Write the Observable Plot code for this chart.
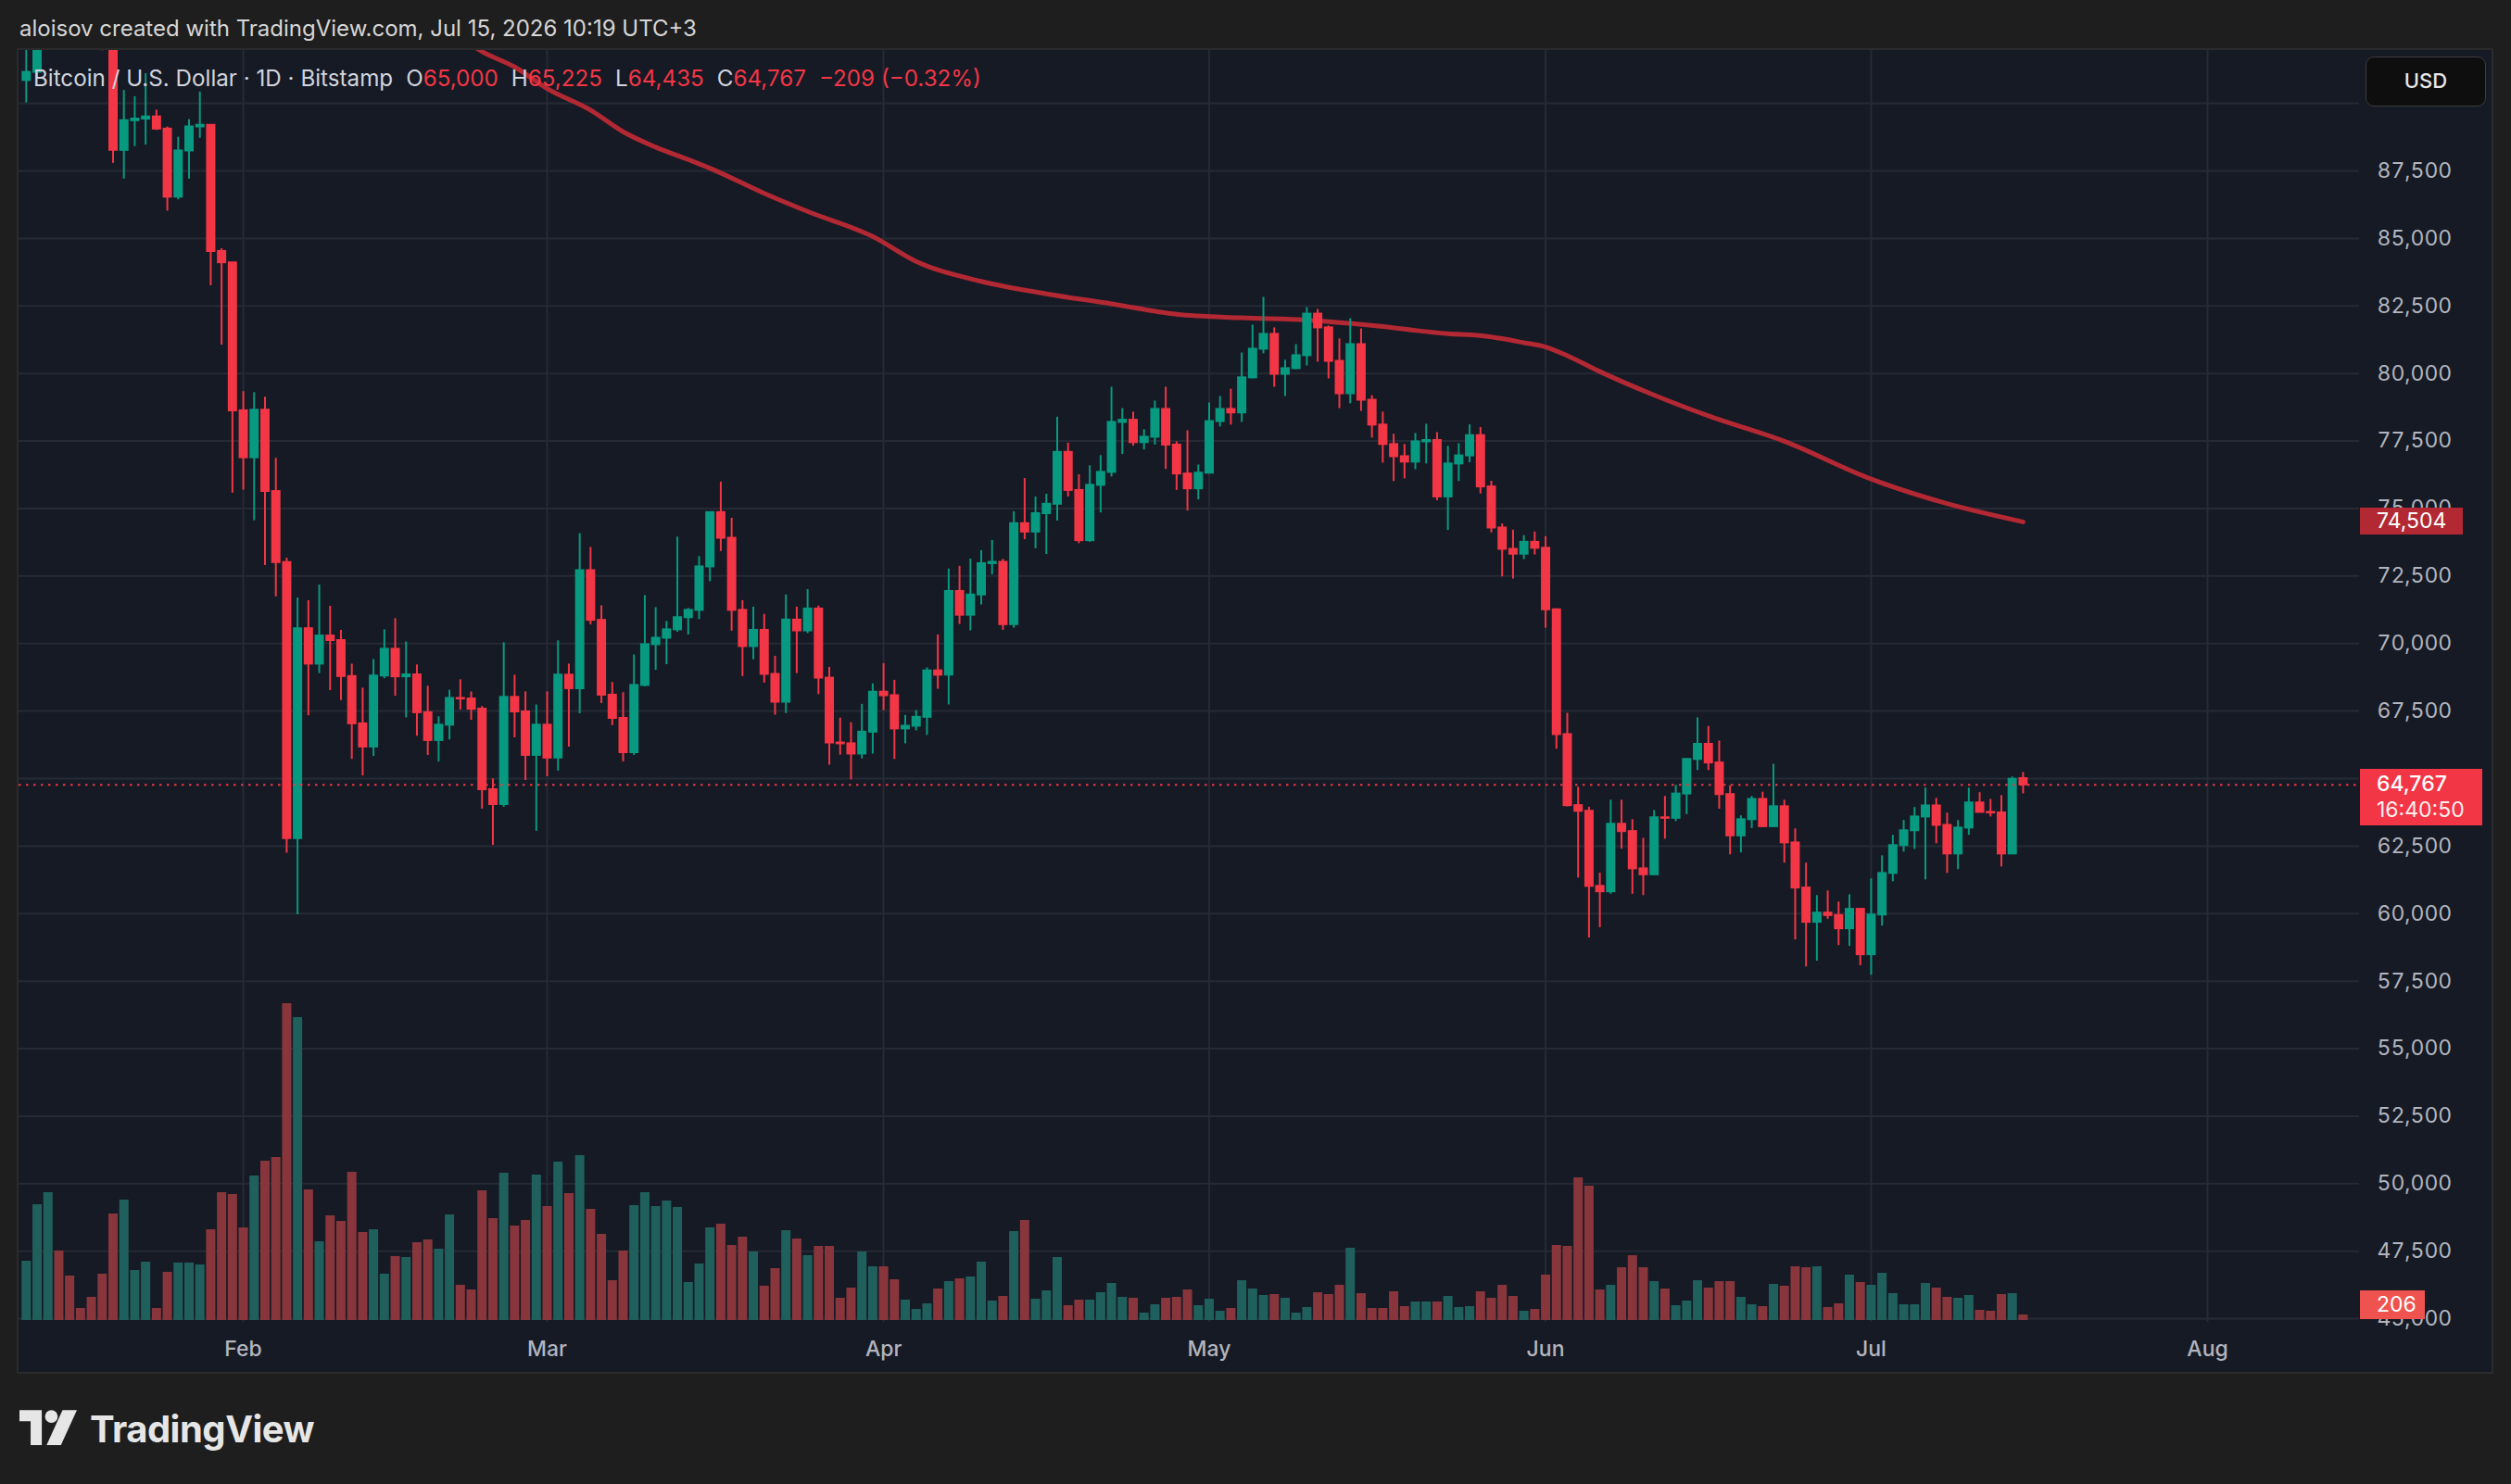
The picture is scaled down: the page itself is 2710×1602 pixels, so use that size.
<!DOCTYPE html>
<html><head><meta charset="utf-8">
<script src="https://cdn.jsdelivr.net/npm/d3@7"></script>
<script src="https://cdn.jsdelivr.net/npm/@observablehq/plot@0.6"></script>
<style>
html,body{margin:0;padding:0;background:#1e1e1e;}
body{width:2710px;height:1602px;position:relative;overflow:hidden;font-family:Inter,"Noto Sans",sans-serif;}
#header{position:absolute;left:21px;top:16px;font-size:24px;color:#d6d6d6;line-height:30px;white-space:nowrap;}
#pane{position:absolute;left:18px;top:52px;width:2673px;height:1431px;box-sizing:border-box;border:2px solid #2b2b2b;background:#161a25;overflow:hidden;}
.layer{position:absolute;left:0;top:0;}
#legend{position:absolute;left:16px;top:16px;font-size:24.2px;line-height:30px;color:#d1d4dc;white-space:nowrap;}
#legend .v{color:#f23645;}
#legend .g{margin-left:14px;}
.tag{position:absolute;left:2527px;color:#fff;font-size:23px;box-sizing:border-box;padding-left:18px;white-space:nowrap;}
#usd{position:absolute;left:2533px;top:7px;width:130px;height:54px;box-sizing:border-box;background:#0e0e0e;border:1.5px solid #3c3c3c;border-radius:9px;color:#e8e8e8;font-size:22px;font-weight:500;text-align:center;line-height:51px;}
#footer{position:absolute;left:21px;top:1519px;height:46px;display:flex;align-items:center;color:#e6e6e6;}
#footer span{font-size:40px;font-weight:700;margin-left:14px;letter-spacing:-0.5px;}
</style></head>
<body>
<div id="header">aloisov created with TradingView.com, Jul 15, 2026 10:19 UTC+3</div>
<div id="pane"></div>
<div id="footer"><svg width="62" height="40" viewBox="0 0 36 23"><g fill="#e6e6e6"><path d="M0 0h14v22H7V7H0z"/><circle cx="20" cy="4" r="4"/><path d="M27 0h9l-10 22h-9z"/></g></svg><span>TradingView</span></div>
<script>
// ---- data (daily candles, Jan 12 – Jul 15, 2026) ----
const firstDay = "2026-01-12";
const opens = [
90850,91150,95500,97000,95600,95500,95100,93600,92600,88260,89360,89420,89500,89050,86530,88240,89130,89190,84520,84100,
78620,76880,78640,75630,73000,62780,70550,69240,70280,70110,68780,67030,66170,68800,69790,68770,68840,67440,66410,66980,67970,67950,67570,64590,64040,68010,67470,65860,
66980,65760,68830,68330,72700,70860,68090,67230,65960,68450,69960,70200,70510,70960,71230,72840,74850,73900,71230,69890,70490,68860,67830,70870,70470,71280,68720,66320,66290,65910,66720,
68200,68070,66840,66940,67270,68990,68830,71930,71050,71800,72960,73010,70700,74440,74130,74810,75160,77080,75670,73810,75860,76340,78190,78270,77440,77640,78670,77350,76280,75730,
76310,78220,78670,78540,79840,80900,81450,79970,80180,80660,82200,81690,80450,79250,81070,79010,78090,77370,76920,76720,77470,77520,75430,76650,76950,77700,75800,74280,73490,73310,73750,
73530,71250,66630,64000,63790,61010,60810,63310,63040,61660,61440,63550,63530,64430,65710,66270,65580,64410,62880,63480,64230,63220,63960,62620,60950,59680,60020,59930,59440,60160,
58480,59950,61490,62520,63070,63580,63990,63270,62210,63170,64100,63750,63730,62210,65000];
const highs = [
92500,96500,97900,97200,95800,95700,95400,93700,92800,90480,90250,91100,89750,89130,88750,89400,90420,89190,84620,84120,
79330,79290,79120,76860,73160,71690,71590,72170,71380,70490,69240,68350,69410,70510,70920,70060,69210,68420,67290,68270,68660,68210,67670,64990,70030,68830,68210,67730,
68210,70100,69240,74070,73560,71400,68560,68180,69580,71780,71330,70820,73940,71300,73220,74880,75980,74640,71590,71350,71080,69530,71800,71350,72000,71390,69120,67240,67070,67750,68510,
69260,68640,67340,67520,69100,70320,72760,72860,73130,73440,73820,73120,74880,76110,75430,75530,78380,77420,76250,76580,76960,79490,78700,78570,77920,78980,79490,77470,77880,76610,
78910,79150,79420,80760,81790,82820,81690,80490,81070,82440,82370,81760,81280,82030,81650,79180,78570,77750,77370,77780,78120,77810,77300,77400,78100,78000,76010,74430,74200,74000,74130,
73960,71290,67420,64680,63940,61500,64200,64200,63480,62790,63820,64340,64750,65740,67250,66930,66390,64740,63620,64340,64500,65530,64200,63140,61870,60670,60840,60430,60700,60190,
61290,62140,62900,63450,63930,64650,64270,63720,63450,64650,64480,64230,64370,65060,65225];
const lows = [
90020,90900,94900,95000,94300,95000,92900,91950,87780,87200,88400,88460,89000,86010,86430,87200,88710,83250,81050,75570,
75680,74550,72890,71730,62240,59960,67330,68890,68260,67890,65710,65100,65820,68700,68050,67250,66570,65860,65620,66430,67540,67160,63870,62530,63940,66510,64930,63050,
65070,65280,66170,67400,70690,67780,66960,65620,65860,68400,69010,69220,70420,70320,70890,72290,73410,70460,68780,69400,68540,67350,67410,68890,70370,68110,65500,65870,64950,65730,65910,
67520,65710,66290,66770,66600,68310,67730,70710,70470,71430,72550,70490,70570,73850,73510,73300,74540,75430,73700,73750,74840,76170,77000,77310,77170,77350,76450,75670,74910,75320,
76280,78020,78090,78190,79800,80730,79490,79150,80140,80280,80420,79800,78700,78880,78600,77610,76680,76000,76100,76440,76650,75290,74190,76000,76700,75540,74100,72470,72390,73110,73280,
70570,66090,63950,61320,59100,59480,60720,62390,60720,60670,61440,62760,63410,63670,65300,65300,63870,62180,62250,63150,63200,63200,61870,59030,58030,58240,59790,58820,58790,58070,
57720,59540,61180,62280,62380,61250,62590,61490,61630,62900,63750,63580,61730,62210,64435];
const closes = [
91150,95500,97000,95600,95500,95100,93600,92600,88260,89360,89420,89500,89050,86530,88240,89130,89190,84520,84100,78620,
76880,78640,75630,73000,62780,70550,69240,70280,70110,68780,67030,66170,68800,69790,68770,68840,67440,66410,66980,67970,67950,67570,64590,64040,68010,67470,65860,66980,
65760,68830,68330,72700,70860,68090,67230,65960,68450,69960,70200,70510,70960,71230,72840,74850,73900,71230,69890,70490,68860,67830,70870,70470,71280,68720,66320,66290,65910,66720,68200,
68070,66840,66940,67270,68990,68830,71930,71050,71800,72960,73010,70700,74440,74130,74810,75160,77080,75670,73810,75860,76340,78190,78270,77440,77640,78670,77350,76280,75730,76310,
78220,78670,78540,79840,80900,81450,79970,80180,80660,82200,81690,80450,79250,81070,79010,78090,77370,76920,76720,77470,77520,75430,76650,76950,77700,75800,74280,73490,73310,73750,73530,
71250,66630,64000,63790,61010,60810,63310,63040,61660,61440,63550,63530,64430,65710,66270,65580,64410,62880,63480,64230,63220,63960,62620,60950,59680,60020,59930,59440,60160,58480,
59950,61490,62520,63070,63580,63990,63270,62210,63170,64100,63750,63730,62210,64976,64767];
const volumes = [
2208,4313,4761,2588,1656,449,863,1725,3968,4485,1863,2174,449,1794,2139,2139,2070,3381,4761,4692,
3450,5382,5934,6072,11799,11282,4865,2933,3899,3692,5520,3278,3381,1725,2381,2346,2898,3002,2657,3933,1311,1139,4830,3795,5486,3519,3726,5417,
4244,5900,4727,6141,4140,3209,1484,2588,4278,4761,4244,4451,4209,1415,2105,3450,3588,2795,3105,2553,1277,1932,3347,3036,2415,2760,2760,828,1208,2553,2001,
2001,1518,759,414,621,1173,1449,1553,1622,2174,725,897,3312,3726,794,1104,2346,552,759,759,1035,1380,863,828,276,587,828,863,1139,552,
794,345,449,1484,1173,932,966,828,276,483,1035,966,1311,2691,1001,449,449,1070,518,690,690,690,897,483,518,1070,828,1311,897,345,414,
1691,2795,2760,5313,5003,1139,1311,1967,2415,1967,1449,1173,552,725,1484,1208,1449,1449,863,587,518,1346,1277,2001,1967,2001,483,621,1691,1415,
1311,1760,1001,587,587,1380,1208,863,828,932,380,345,966,1001,206];
// moving average line read at sample dates
const maDates = ["2026-02-21","2026-02-23","2026-02-26","2026-03-01","2026-03-05","2026-03-08","2026-03-11","2026-03-14","2026-03-16","2026-03-21","2026-03-25","2026-03-31","2026-04-04","2026-04-10","2026-04-16","2026-04-22","2026-04-28","2026-05-04","2026-05-10","2026-05-16","2026-05-23","2026-05-26","2026-05-30","2026-06-01","2026-06-03","2026-06-06","2026-06-11","2026-06-16","2026-06-23","2026-07-01","2026-07-08","2026-07-15"];
const maValues = [92450,91920,91350,90550,89750,88950,88380,87920,87600,86670,86000,85070,84150,83410,82950,82580,82190,82060,81980,81780,81470,81400,81140,80980,80660,80070,79200,78430,77490,76090,75180,74504];
const monthLabels = ["2026-02-01","2026-03-01","2026-04-01","2026-05-01","2026-06-01","2026-07-01","2026-08-01"];
const gridTicks = d3.range(45000, 92500, 2500);
const labelTicks = d3.range(45000, 90000, 2500); // 90,000 sits under the USD button
const lastClose = 64767, lastVolume = 206, maLast = 74504, countdown = "16:40:50";

// ---- build ----
const start = new Date(firstDay + "T00:00Z");
const dates = d3.range(opens.length).map(i => d3.utcDay.offset(start, i));
const candles = dates.map((date, i) => ({date, open: opens[i], high: highs[i], low: lows[i], close: closes[i], volume: volumes[i]}));
const ma = maDates.map((d, i) => ({date: new Date(d + "T00:00Z"), value: maValues[i]}));
const months = monthLabels.map(d => new Date(d + "T00:00Z"));

const GREEN = "#089981", RED = "#f23645";
const VGREEN = "#1f605d", VRED = "#88363c";
const GRID = "#262a35";
const W = 2669, H = 1427;
const xDomain = [new Date("2026-01-11T08:00Z"), new Date("2026-08-15T00:00Z")];
const yDomain = [44867, 91959];
const common = {width: W, height: H, marginLeft: 0, marginRight: 143, marginTop: 0, marginBottom: 54,
  style: {background: "transparent", color: "#b2b5be", fontFamily: "Inter, sans-serif", fontSize: "23px", overflow: "hidden"}};

const gridPlot = Plot.plot({...common,
  x: {type: "utc", domain: xDomain, axis: null},
  y: {domain: yDomain, axis: null},
  marks: [
    Plot.gridY(gridTicks, {stroke: GRID, strokeOpacity: 1, strokeWidth: 2}),
    Plot.gridX(months, {stroke: GRID, strokeOpacity: 1, strokeWidth: 2})
  ]});

const volPlot = Plot.plot({...common, marginBottom: 56,
  x: {type: "utc", domain: xDomain, axis: null},
  y: {domain: [0, 47300], axis: null},
  color: {type: "identity"},
  marks: [
    Plot.ruleX(candles, {x: "date", y1: 0, y2: "volume", stroke: d => d.close >= d.open ? VGREEN : VRED, strokeWidth: 10})
  ]});

const pricePlot = Plot.plot({...common,
  x: {type: "utc", domain: xDomain},
  y: {domain: yDomain},
  color: {type: "identity"},
  marks: [
    Plot.axisX(months, {tickSize: 0, tickPadding: 20, tickFormat: d3.utcFormat("%b"), fontSize: 23, fontWeight: 500, fill: "#b2b5be"}),
    Plot.axisY(labelTicks, {anchor: "right", tickSize: 0, tickPadding: 19, tickFormat: d3.format(","), fontSize: 23, fill: "#b2b5be"}),
    Plot.line(ma, {x: "date", y: "value", stroke: "#b22833", strokeWidth: 5, curve: "monotone-x", clip: true}),
    Plot.ruleX(candles, {x: "date", y1: "low", y2: "high", stroke: d => d.close >= d.open ? GREEN : RED, strokeWidth: 2, clip: true}),
    Plot.ruleX(candles, {x: "date", y1: d => Math.max(d.open, d.close), y2: d => Math.min(d.open, d.close),
      stroke: d => d.close >= d.open ? GREEN : RED, strokeWidth: 10, insetTop: -1, insetBottom: -1, clip: true}),
    Plot.ruleY([lastClose], {stroke: RED, strokeWidth: 2, strokeDasharray: "2.5,5.5"})
  ]});

const pane = document.getElementById("pane");
for (const p of [gridPlot, volPlot, pricePlot]) { p.classList.add("layer"); pane.appendChild(p); }

// legend
const legend = document.createElement("div");
legend.id = "legend";
legend.innerHTML = 'Bitcoin / U.S. Dollar · 1D · Bitstamp' +
  '<span class="g">O<span class="v">65,000</span></span>' +
  '<span class="g">H<span class="v">65,225</span></span>' +
  '<span class="g">L<span class="v">64,435</span></span>' +
  '<span class="g">C<span class="v">64,767</span></span>' +
  '<span class="g v">−209 (−0.32%)</span>';
pane.appendChild(legend);

// USD button
const usd = document.createElement("div"); usd.id = "usd"; usd.textContent = "USD"; pane.appendChild(usd);

// price-scale tags
const ys = pricePlot.scale("y"), vs = volPlot.scale("y");
const fmt = d3.format(",");
function tag(text, yCenter, h, w, bg, extra) {
  const el = document.createElement("div");
  el.className = "tag";
  el.style.top = (yCenter - h / 2) + "px";
  el.style.height = h + "px";
  el.style.width = w + "px";
  el.style.background = bg;
  el.style.lineHeight = h + "px";
  el.innerHTML = text;
  if (extra) Object.assign(el.style, extra);
  pane.appendChild(el);
  return el;
}
tag(fmt(maLast), ys.apply(maLast), 29, 111, "#b22833");
const lp = ys.apply(lastClose);
tag('<div style="line-height:28px;font-weight:500">' + fmt(lastClose) + '</div><div style="line-height:28px;opacity:0.92">' + countdown + '</div>',
  lp + 14, 61, 132, RED, {lineHeight: "normal", paddingTop: "2px"});
const vy = Math.min(vs.apply(lastVolume), 1370 - 15.5);
tag(String(lastVolume), vy, 31, 70, "#ef5350");
</script>
</body></html>
